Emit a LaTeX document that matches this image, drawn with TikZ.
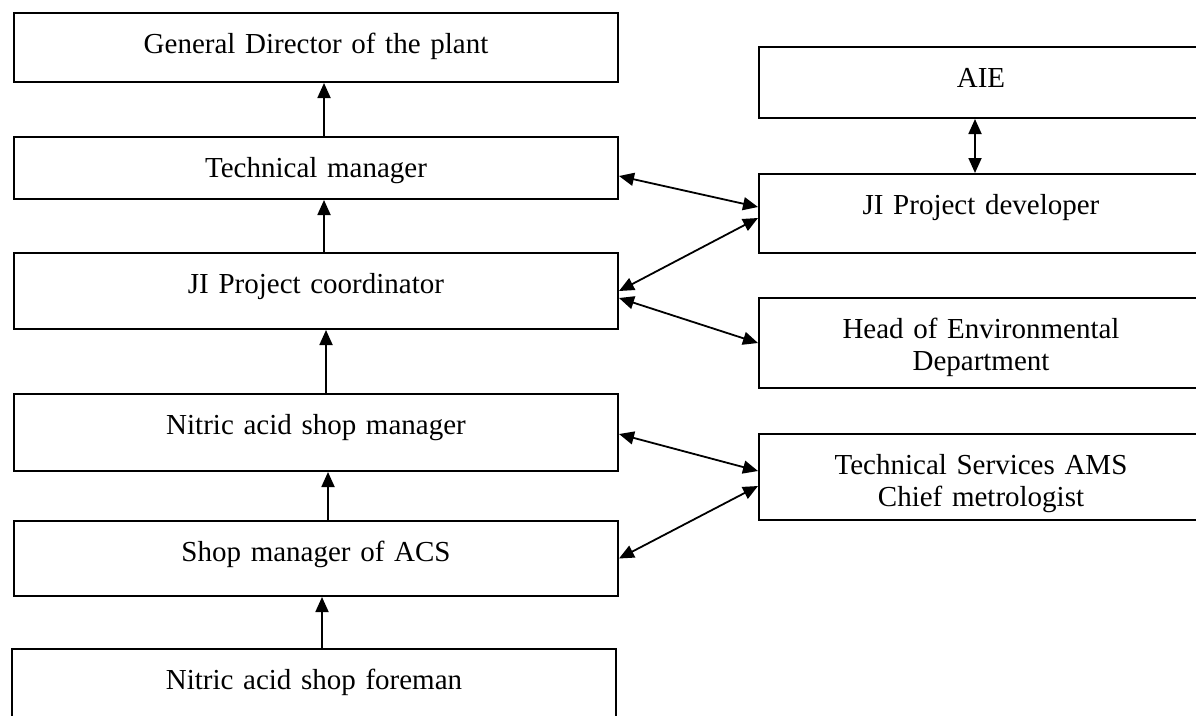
\documentclass[tikz,border=0pt]{standalone}
\usepackage{fontspec}
\setmainfont{Liberation Serif}
\usepackage{tikz}
\usetikzlibrary{arrows.meta}
\tikzstyle{orgbox}=[draw,line width=2pt,anchor=north west,inner sep=0pt,align=center,text height=40pt,font=\fontsize{29}{32}\selectfont]
\newcommand{\leftbox}[1]{\node[orgbox,text width=604pt,text depth=#1]}
\newcommand{\rightbox}[1]{\node[orgbox,text width=444pt,text depth=#1]}

\begin{document}
\begin{tikzpicture}[x=1pt,y=-1pt,>={Triangle[length=15pt,width=13pt]},line width=1.8pt]
      \useasboundingbox (0,0) rectangle (1196,715);
      \clip (0,0) rectangle (1196,715);
      \leftbox{29pt} (director) at (13,12) {General Director of the plant}; %
      \leftbox{22pt} (techmgr) at (13,136) {Technical manager}; %
      \leftbox{36pt} (coord) at (13,252) {JI Project coordinator}; %
      \leftbox{37pt} (shopmgr) at (13,393) {Nitric acid shop manager}; %
      \leftbox{35pt} (acsmgr) at (13,520) {Shop manager of ACS}; %
      \leftbox{60pt} (foreman) at (11,648) {Nitric acid shop foreman}; %
      \rightbox{31pt} (aie) at (758,46) {AIE}; %
      \rightbox{39pt} (developer) at (758,173) {JI Project developer}; %
      \rightbox{50pt} (ecology) at (758,297) {Head of Environmental\\Department}; %
      \rightbox{46pt} (metrology) at (758,433) {Technical Services AMS\\Chief metrologist}; %
      \draw[->] ([xshift=8pt]techmgr.north) -- ([xshift=8pt]director.south);
      \draw[->] ([xshift=8pt]coord.north) -- ([xshift=8pt]techmgr.south);
      \draw[->] ([xshift=10pt]shopmgr.north) -- ([xshift=10pt]coord.south);
      \draw[->] ([xshift=12pt]acsmgr.north) -- ([xshift=12pt]shopmgr.south);
      \draw[->] ([xshift=8pt]foreman.north) -- ([xshift=6pt]acsmgr.south);
      \draw[<->] ([xshift=-6pt]aie.south) -- ([xshift=-6pt]developer.north);
      \draw[<->] ([yshift=-8pt]techmgr.east) -- ([yshift=6.5pt]developer.west);
      \draw[<->] (coord.east) -- ([yshift=-4.5pt]developer.west);
      \draw[<->] ([yshift=-7pt]coord.east) -- (ecology.west);
      \draw[<->] ([yshift=-1.5pt]shopmgr.east) -- ([yshift=6pt]metrology.west);
      \draw[<->] (acsmgr.east) -- ([yshift=-9pt]metrology.west);
\end{tikzpicture}
\end{document}
